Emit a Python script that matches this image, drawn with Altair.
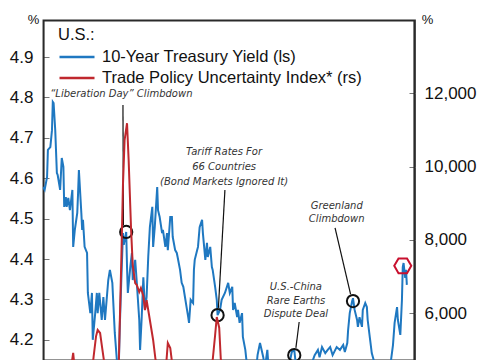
import altair as alt
import pandas as pd

# x = days since 2025-01-01
ust_day = [0, 2, 5, 6, 9, 11, 12, 13, 15, 17, 18, 21, 23, 25, 26, 28, 29, 31, 33, 36,
           37, 39, 42, 43, 44, 47, 48, 49, 51, 54, 55, 58, 60, 61, 64, 66, 67, 69, 72, 74,
           76, 78, 80, 82, 85, 86, 88, 91, 92, 94, 96, 98, 99, 102, 103, 104, 107, 109, 110, 113,
           115, 118, 119, 121, 123, 125, 127, 129, 131, 134, 135, 137, 140, 141, 143, 146, 147, 150, 152, 153,
           156, 158, 159, 162, 164, 165, 168, 170, 172, 174, 176, 178, 179, 181, 184, 185, 186, 189, 190, 192,
           195, 196, 199, 201, 202, 205, 207, 208, 211, 213, 214, 217, 219, 223, 227, 229, 232, 233, 235, 238,
           239, 241, 244, 245, 248, 250, 254, 257, 261, 263, 266, 268, 270, 272, 275, 276, 279, 284, 289, 294,
           299, 303, 305, 308, 310, 315, 320, 325, 330, 333, 337, 339, 342, 346, 349, 352, 355, 360, 364, 368,
           370, 373, 374, 376, 379, 380, 382, 385, 386, 388, 391, 392, 395, 397, 398, 401, 403, 407, 413, 419,
           425, 429, 431, 434, 435, 438, 440, 441, 442, 444, 445, 446]
ust_val = [4.578, 4.571, 4.603, 4.670, 4.677, 4.719, 4.789, 4.786, 4.719, 4.613, 4.608, 4.571, 4.650, 4.628, 4.529, 4.553, 4.529, 4.551, 4.521, 4.571,
           4.430, 4.472, 4.514, 4.563, 4.620, 4.514, 4.472, 4.497, 4.430, 4.415, 4.316, 4.266, 4.316, 4.200, 4.266, 4.316, 4.266, 4.316, 4.249, 4.306,
           4.249, 4.299, 4.348, 4.373, 4.341, 4.299, 4.217, 4.138, 4.063, 4.224, 4.348, 4.464, 4.435, 4.467, 4.380, 4.316, 4.380, 4.415, 4.348, 4.398,
           4.341, 4.249, 4.175, 4.256, 4.355, 4.274, 4.306, 4.405, 4.479, 4.529, 4.430, 4.479, 4.578, 4.521, 4.504, 4.464, 4.472, 4.430, 4.464, 4.422,
           4.504, 4.504, 4.455, 4.422, 4.415, 4.405, 4.373, 4.341, 4.331, 4.306, 4.281, 4.256, 4.242, 4.299, 4.291, 4.373, 4.398, 4.422, 4.430, 4.479,
           4.497, 4.464, 4.398, 4.440, 4.405, 4.430, 4.380, 4.373, 4.331, 4.299, 4.261, 4.274, 4.299, 4.316, 4.341, 4.316, 4.331, 4.274, 4.291, 4.256,
           4.274, 4.242, 4.266, 4.207, 4.175, 4.138, 4.100, 4.125, 4.120, 4.162, 4.192, 4.175, 4.157, 4.130, 4.175, 4.145, 4.100, 4.076, 4.105, 4.088,
           4.125, 4.150, 4.170, 4.175, 4.138, 4.120, 4.138, 4.113, 4.145, 4.162, 4.175, 4.157, 4.182, 4.167, 4.175, 4.182, 4.162, 4.182, 4.175, 4.187,
           4.170, 4.192, 4.224, 4.266, 4.296, 4.303, 4.274, 4.249, 4.232, 4.256, 4.232, 4.274, 4.291, 4.281, 4.249, 4.200, 4.167, 4.138, 4.088, 4.100,
           4.125, 4.187, 4.242, 4.281, 4.249, 4.212, 4.299, 4.380, 4.390, 4.353, 4.373, 4.336]

tpu_day = [0, 15, 27, 33, 37, 40, 48, 58, 62, 65, 67, 70, 72, 76, 82, 89, 93, 96, 98, 100,
           103, 105, 108, 110, 113, 115, 118, 120, 123, 125, 127, 130, 132, 135, 138, 143, 150, 153, 156, 159,
           168, 180, 192, 202, 208, 211, 213, 216, 218, 223, 235, 254, 272, 290, 309, 327, 346, 364, 382, 401,
           419, 431, 440, 446]
tpu_val = [2500, 3200, 3600, 4300, 4910, 4200, 3700, 4000, 4800, 5364, 5537, 5455, 5128, 4500, 3800, 4000, 4718, 7446, 9491, 10718,
           11182, 10173, 8264, 7309, 6818, 6764, 6573, 6682, 6464, 6082, 6355, 5946, 5673, 5264, 4718, 4100, 4300, 5182, 5046, 4500,
           3900, 3500, 3400, 3900, 4718, 5400, 5891, 5600, 4718, 3900, 3200, 3300, 2900, 3400, 3800, 3000, 2700, 2900, 3200, 2800,
           3300, 3500, 4200, 3800]

series = ["10-Year Treasury Yield (ls)", "Trade Policy Uncertainty Index* (rs)"]
colors = ["#1f78c1", "#c0282e"]

ann_text = ["\u201cLiberation Day\u201d Climbdown",
            "Tariff Rates For", "66 Countries", "(Bond Markets Ignored It)",
            "Greenland", "Climbdown",
            "U.S.-China", "Rare Earths", "Dispute Deal"]
ann_day = [96, 222, 222, 222, 360, 360, 310, 310, 310]
ann_val = [4.808, 4.665, 4.628, 4.591, 4.531, 4.498, 4.331, 4.296, 4.264]

rule_day = [98, 223, 314, 358]
rule_val = [4.781, 4.571, 4.244, 4.477]
rule_day2 = [98.6, 215, 310, 377]
rule_val2 = [4.484, 4.279, 4.180, 4.313]

circle_day = [102, 214, 308, 380]
circle_val = [4.467, 4.261, 4.162, 4.296]
hex_day = [441]
hex_val = [4.383]

ust = pd.DataFrame({"day": ust_day, "v": ust_val, "s": series[0]})
tpu = pd.DataFrame({"day": tpu_day, "v": tpu_val, "s": series[1]})
ann = pd.DataFrame({"day": ann_day, "v": ann_val, "t": ann_text})
rules = pd.DataFrame({"day": rule_day, "v": rule_val, "day2": rule_day2, "v2": rule_val2})
circ = pd.DataFrame({"day": circle_day, "v": circle_val})
hexd = pd.DataFrame({"day": hex_day, "v": hex_val})
one = pd.DataFrame({"k": [0]})

W, H = 372, 340
FONT = "Liberation Sans"
xscale = alt.Scale(domain=[0, 456], nice=False, zero=False)
xenc = alt.X("day:Q", scale=xscale, axis=None)
color = alt.Color("s:N", scale=alt.Scale(domain=series, range=colors),
                  legend=alt.Legend(title="U.S.:", orient="none", legendX=15, legendY=7,
                                    symbolType="stroke", symbolSize=1225, symbolStrokeWidth=2.5,
                                    clipHeight=21, rowPadding=0, padding=0, titlePadding=3,
                                    labelOffset=6, labelLimit=500, labelFont=FONT, labelFontSize=16.5,
                                    titleFont=FONT, titleFontSize=16.5, titleFontWeight="normal",
                                    labelColor="#111", titleColor="#111"))

lscale = alt.Scale(domain=[4.15, 4.9916], nice=False, zero=False)
rscale = alt.Scale(domain=[4718, 14000], nice=False, zero=False)

common_axis = dict(domain=False, grid=False, ticks=True, tickSize=6, tickColor="#777",
                   tickWidth=1, offset=-6, labelFont=FONT, labelFontSize=17, labelColor="#111",
                   titleAngle=0, titleFont=FONT, titleFontSize=13, titleFontWeight="normal",
                   titleColor="#111", titleAlign="center", titleBaseline="middle", titleY=-1)

laxis = alt.Axis(values=[4.2, 4.3, 4.4, 4.5, 4.6, 4.7, 4.8, 4.9], format=".1f",
                 orient="left", labelPadding=10, title="%", titleX=-16, **common_axis)
raxis = alt.Axis(values=[6000, 8000, 10000, 12000], format=",d",
                 orient="right", labelPadding=9, title="%", titleX=18, **common_axis)

ly = lambda: alt.Y("v:Q", scale=lscale, axis=laxis)

blue = alt.Chart(ust).mark_line(strokeWidth=2, clip=True).encode(
    x=xenc, y=ly(), color=color)

rule_layer = alt.Chart(rules).mark_rule(color="#111", strokeWidth=1.2).encode(
    x=alt.X("day:Q", scale=xscale, axis=None), x2="day2", y=ly(), y2="v2")

circle_layer = alt.Chart(circ).mark_point(shape="circle", size=150, filled=False,
                                          stroke="#111", strokeWidth=2, opacity=1).encode(
    x=alt.X("day:Q", scale=xscale, axis=None), y=ly())

hex_layer = alt.Chart(hexd).mark_point(
    shape="M-1,0L-0.5,-0.866L0.5,-0.866L1,0L0.5,0.866L-0.5,0.866Z",
    size=290, filled=False, stroke="#c8102e", strokeWidth=2, opacity=1).encode(
    x=alt.X("day:Q", scale=xscale, axis=None), y=ly())

text_layer = alt.Chart(ann).mark_text(font="DejaVu Sans", fontStyle="italic", fontSize=10,
                                      color="#333", align="center", baseline="middle").encode(
    x=alt.X("day:Q", scale=xscale, axis=None), y=ly(), text="t:N")

left = alt.layer(blue, rule_layer, circle_layer, hex_layer, text_layer)

red = alt.Chart(tpu).mark_line(strokeWidth=2, clip=True).encode(
    x=xenc, y=alt.Y("v:Q", scale=rscale, axis=raxis), color=color)

# plot frame (top, left, right edges)
fr = dict(color="#2a2a2a", strokeWidth=1.6)
f_top = alt.Chart(one).mark_rule(**fr).encode(x=alt.value(0), x2=alt.value(W), y=alt.value(0.8))
f_left = alt.Chart(one).mark_rule(**fr).encode(x=alt.value(0.8), y=alt.value(0), y2=alt.value(H))
f_right = alt.Chart(one).mark_rule(**fr).encode(x=alt.value(W - 0.8), y=alt.value(0), y2=alt.value(H))

chart = alt.layer(f_top, f_left, f_right, left, red).resolve_scale(y="independent").properties(
    width=W, height=H,
    padding={"left": 35, "top": 12, "right": 62, "bottom": 0},
    autosize="none"
).configure(font=FONT).configure_view(stroke="#2a2a2a", strokeWidth=1.3)

chart.save("out.html", embed_options={"renderer": "svg", "actions": False})
